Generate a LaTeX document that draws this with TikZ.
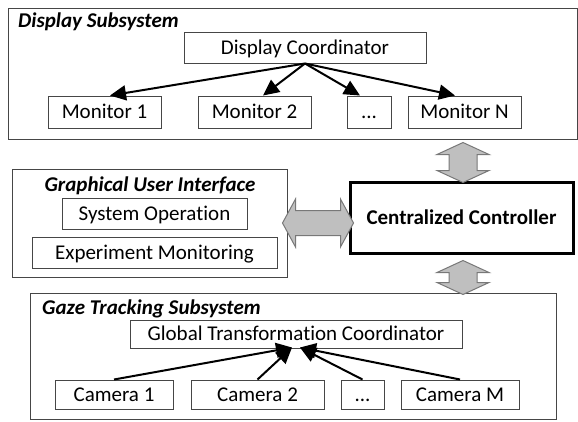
\documentclass[tikz,border=0pt]{standalone}
\usepackage{fontspec}
\setmainfont[Ligatures={NoCommon,NoContextual}]{Carlito}
\usetikzlibrary{arrows.meta,calc}

\definecolor{framegray}{RGB}{70,70,70}
\definecolor{arrowfill}{RGB}{191,191,191}
\definecolor{arrowline}{RGB}{120,120,120}

\tikzset{
  unit/.style={draw=framegray, line width=1pt, inner sep=0pt, fill=white,
    font=\fontsize{21}{24}\selectfont, text height=18pt, text depth=4.5pt},
  frame/.style={draw=framegray, line width=1pt, inner sep=0pt},
  heading/.style={inner sep=0pt, font=\fontsize{21}{24}\selectfont\bfseries\itshape},
  hub/.style={draw=black, line width=3pt, inner sep=0pt, fill=white,
    font=\fontsize{21}{24}\selectfont\bfseries},
  feed/.style={line width=2pt, -{Triangle[length=16pt,width=15pt]}},
  fatarrow/.style={fill=arrowfill, draw=arrowline, line width=1pt, line join=miter}
}

% vertical double block arrow between a top tip (#1) and a bottom tip (#2)
\newcommand\fatvertical[2]{%
  \draw[fatarrow] (#1) -- ++(26,12) -- ++(-12,0) -- ($(#2)+(14,-12)$) -- ++(12,0)
    -- (#2) -- ++(-26,-12) -- ++(12,0) -- ($(#1)+(-14,12)$) -- ++(-12,0) -- cycle;}
% horizontal double block arrow between a left tip (#1) and a right tip (#2)
\newcommand\fathorizontal[2]{%
  \draw[fatarrow] (#1) -- ++(13,-24) -- ++(0,11.5) -- ($(#2)+(-13,-12.5)$) -- ++(0,-11.5)
    -- (#2) -- ++(-13,24) -- ++(0,-11.5) -- ($(#1)+(13,12.5)$) -- ++(0,11.5) -- cycle;}

\begin{document}
\begin{tikzpicture}[x=1pt,y=-1pt]
\useasboundingbox (0,0) rectangle (578,421);

% ---- display subsystem ----
\node[frame, minimum width=569pt, minimum height=131pt] (disp) at (292.5,73.5) {};
\node[heading, anchor=base west] (dispT) at (18,27) {Display Subsystem};
\node[unit, minimum width=242pt, minimum height=31pt] (dc) at (305,47.5) {Display Coordinator};
\node[unit, minimum width=113pt, minimum height=32pt] (m1) at (104.5,112) {Monitor 1};
\node[unit, minimum width=113pt, minimum height=32pt] (m2) at (254.5,112) {Monitor 2};
\node[unit, minimum width=44pt, minimum height=32pt] (md) at (369,112) {...};
\node[unit, minimum width=113pt, minimum height=32pt] (mn) at (464.5,112) {Monitor N};

\draw[feed] (dc.south) -- ([xshift=5.5pt]m1.north);
\draw[feed] (dc.south) -- ([xshift=8.5pt]m2.north);
\draw[feed] (dc.south) -- ([xshift=-9pt]md.north);
\draw[feed] (dc.south) -- ([xshift=-9.5pt]mn.north);

% ---- graphical user interface ----
\node[frame, minimum width=275pt, minimum height=108pt] (gui) at (149.5,223) {};
\node[heading, anchor=base] (guiT) at (150,191) {Graphical User Interface};
\node[unit, minimum width=185pt, minimum height=31pt] (so) at (154.5,213.5) {System Operation};
\node[unit, minimum width=245pt, minimum height=31pt] (em) at (154.5,252.5) {Experiment Monitoring};

% ---- centralized controller ----
\node[hub, minimum width=223pt, minimum height=71pt] (ctrl) at (461.5,217.5) {Centralized Controller};

% ---- gaze tracking subsystem ----
\node[frame, minimum width=526pt, minimum height=126pt] (gaze) at (293,356) {};
\node[heading, anchor=base west] (gazeT) at (42,314) {Gaze Tracking Subsystem};
\node[unit, minimum width=332pt, minimum height=28pt] (gtc) at (296,334) {Global Transformation Coordinator};
\node[unit, minimum width=118pt, minimum height=29pt] (c1) at (114,394.5) {Camera 1};
\node[unit, minimum width=133pt, minimum height=29pt] (c2) at (257.5,394.5) {Camera 2};
\node[unit, minimum width=43pt, minimum height=29pt] (cd) at (362.5,394.5) {...};
\node[unit, minimum width=118pt, minimum height=29pt] (cm) at (460,394.5) {Camera M};

\coordinate (gtcL) at ([xshift=-4pt,yshift=1pt]gtc.south);
\coordinate (gtcR) at ([xshift=4pt,yshift=1pt]gtc.south);
\draw[feed] (c1.north) -- (gtcL);
\draw[feed] (c2.north) -- (gtcL);
\draw[feed] (cd.north) -- (gtcR);
\draw[feed] (cm.north) -- (gtcR);

% ---- block arrows linking the controller ----
\coordinate (upTop) at ([xshift=1.5pt,yshift=-3pt]disp.south -| ctrl.north);
\coordinate (upBot) at ([xshift=1.5pt,yshift=-2pt]ctrl.north);
\fatvertical{upTop}{upBot}
\coordinate (dnTop) at ([xshift=1.5pt,yshift=-6pt]ctrl.south);
\coordinate (dnBot) at ([xshift=1.5pt,yshift=-2pt]gaze.north -| ctrl.south);
\fatvertical{dnTop}{dnBot}
\coordinate (hzL) at ([xshift=-5pt]gui.east);
\coordinate (hzR) at ([xshift=5pt]gui.east -| ctrl.west);
\fathorizontal{hzL}{hzR}
\end{tikzpicture}
\end{document}
